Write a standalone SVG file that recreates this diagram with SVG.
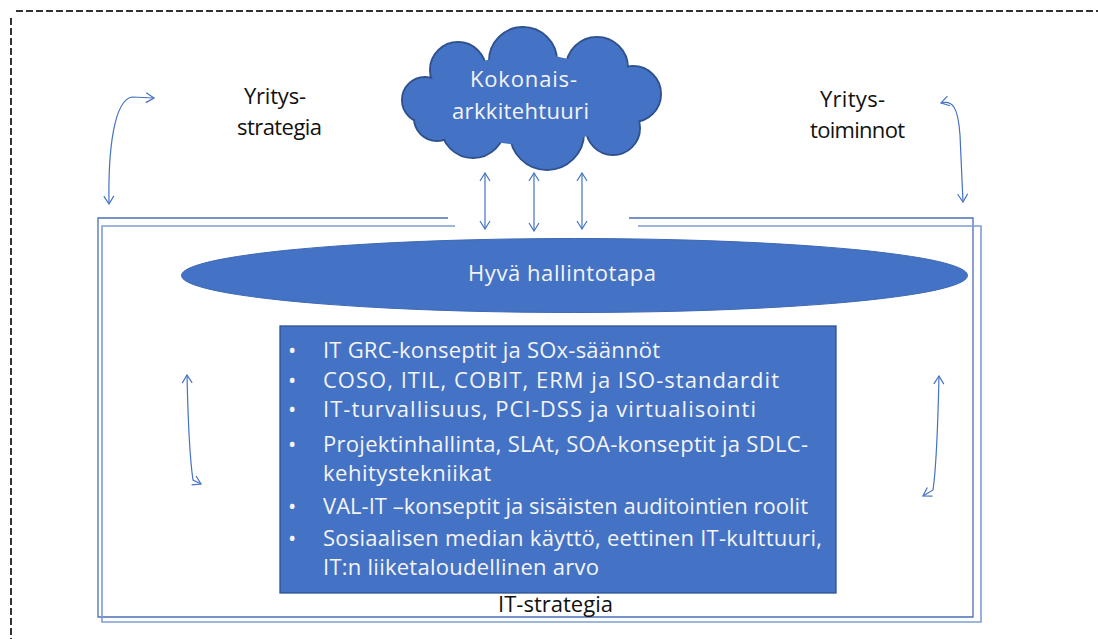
<svg xmlns="http://www.w3.org/2000/svg" width="1098" height="639" viewBox="0 0 1098 639">
  <style>
    .lbl { font-family: "Open Sans", "Liberation Sans", Arial, sans-serif; font-size: 22px; fill: #111; }
    .wht { font-family: "Open Sans", "Liberation Sans", Arial, sans-serif; font-size: 22px; fill: #F4F4F4; }
    .bul { font-family: "Open Sans", "Liberation Sans", Arial, sans-serif; font-size: 22px; fill: #F4F4F4; }
    .conn { fill: none; stroke: #4472C4; stroke-width: 1.2; }
    .cloudO circle, .cloudO ellipse { fill: #4472C4; stroke: #2F528F; stroke-width: 2; }
    .cloudI circle, .cloudI ellipse { fill: #4472C4; stroke: none; }
  </style>
  <defs>
    <marker id="ah" viewBox="0 0 10 12" markerWidth="10" markerHeight="12" refX="9" refY="6" orient="auto-start-reverse" markerUnits="userSpaceOnUse">
      <path d="M1,1 L9,6 L1,11" fill="none" stroke="#4472C4" stroke-width="1.2"/>
    </marker>
  </defs>

  <rect width="1098" height="639" fill="#FFFFFF"/>

  <!-- dashed page border -->
  <g id="border" fill="none" stroke="#333333" stroke-width="2" stroke-dasharray="7 3">
    <path d="M16 11 H1098"/>
    <path d="M11 18 V639"/>
  </g>

  <!-- IT-strategia frame (two offset outlines, open at the top middle) -->
  <g id="it-strategia">
    <path d="M448 218 H98 V617 H973 V218 H629" fill="none" stroke="#4A6FB5" stroke-width="1.3"/>
    <path d="M455 226 H102 V622 H981 V226 H638" fill="none" stroke="#7F9DD3" stroke-width="1.6"/>
    <text class="lbl" x="555.5" y="612" text-anchor="middle" textLength="115">IT-strategia</text>
  </g>

  <!-- cloud -->
  <g id="kokonaisarkkitehtuuri">
    <g class="cloudO">
      <circle cx="425" cy="100" r="23"/>
      <circle cx="458" cy="70" r="28"/>
      <circle cx="523" cy="61" r="34"/>
      <circle cx="597" cy="68" r="31"/>
      <circle cx="633" cy="94" r="28"/>
      <circle cx="613" cy="128" r="27"/>
      <circle cx="547" cy="133" r="37"/>
      <circle cx="473" cy="126" r="32"/>
      <circle cx="437" cy="118" r="23"/>
    </g>
    <g class="cloudI">
      <circle cx="425" cy="100" r="22"/>
      <circle cx="458" cy="70" r="27"/>
      <circle cx="523" cy="61" r="33"/>
      <circle cx="597" cy="68" r="30"/>
      <circle cx="633" cy="94" r="27"/>
      <circle cx="613" cy="128" r="26"/>
      <circle cx="547" cy="133" r="36"/>
      <circle cx="473" cy="126" r="31"/>
      <circle cx="437" cy="118" r="22"/>
      <ellipse cx="530" cy="100" rx="95" ry="45"/>
    </g>
    <text class="wht" x="523.5" y="87" text-anchor="middle" textLength="107">Kokonais-</text>
    <text class="wht" x="520.5" y="119" text-anchor="middle" textLength="137">arkkitehtuuri</text>
  </g>

  <!-- side labels -->
  <g id="yritysstrategia">
    <text class="lbl" x="275" y="104" text-anchor="middle" textLength="62">Yritys-</text>
    <text class="lbl" x="279.5" y="135" text-anchor="middle" textLength="85">strategia</text>
  </g>
  <g id="yritystoiminnot">
    <text class="lbl" x="852.5" y="107" text-anchor="middle" textLength="65">Yritys-</text>
    <text class="lbl" x="857.5" y="138" text-anchor="middle" textLength="95">toiminnot</text>
  </g>

  <!-- governance ellipse -->
  <g id="hyva-hallintotapa">
    <ellipse cx="574.5" cy="275.5" rx="393" ry="37" fill="#4472C4" stroke="#3E69B5" stroke-width="1"/>
    <text class="wht" x="562" y="281" text-anchor="middle" textLength="188">Hyvä hallintotapa</text>
  </g>

  <!-- topic list box -->
  <g id="aihealueet">
    <rect x="280" y="326" width="556" height="267" fill="#4472C4" stroke="#2F528F" stroke-width="1.3"/>
    <g class="bul">
      <text x="288" y="358">•</text>
      <text x="288" y="388">•</text>
      <text x="288" y="417">•</text>
      <text x="288" y="452">•</text>
      <text x="288" y="514">•</text>
      <text x="288" y="546">•</text>
    </g>
    <g class="wht">
      <text x="323" y="358" textLength="337">IT GRC-konseptit ja SOx-säännöt</text>
      <text x="323" y="388" textLength="456">COSO, ITIL, COBIT, ERM ja ISO-standardit</text>
      <text x="323" y="417" textLength="433">IT-turvallisuus, PCI-DSS ja virtualisointi</text>
      <text x="323" y="452" textLength="485">Projektinhallinta, SLAt, SOA-konseptit ja SDLC-</text>
      <text x="323" y="481" textLength="168">kehitystekniikat</text>
      <text x="323" y="514" textLength="485">VAL-IT –konseptit ja sisäisten auditointien roolit</text>
      <text x="323" y="546" textLength="499">Sosiaalisen median käyttö, eettinen IT-kulttuuri,</text>
      <text x="323" y="575" textLength="276">IT:n liiketaloudellinen arvo</text>
    </g>
  </g>

  <!-- connectors -->
  <g id="connectors" class="conn">
    <path d="M485 173 V229" marker-start="url(#ah)" marker-end="url(#ah)"/>
    <path d="M534 173 V231" marker-start="url(#ah)" marker-end="url(#ah)"/>
    <path d="M582 173 V229" marker-start="url(#ah)" marker-end="url(#ah)"/>
    <path d="M109 204 C108 150 114 100 132 97 L154 98" marker-start="url(#ah)" marker-end="url(#ah)"/>
    <path d="M941 103 C952 100 958 106 960 135 L963 202" marker-start="url(#ah)" marker-end="url(#ah)"/>
    <path d="M187 375 C188 420 190 460 193 480 L201 484" marker-start="url(#ah)" marker-end="url(#ah)"/>
    <path d="M939 376 C938 420 936 470 933 490 L923 496" marker-start="url(#ah)" marker-end="url(#ah)"/>
  </g>
</svg>
